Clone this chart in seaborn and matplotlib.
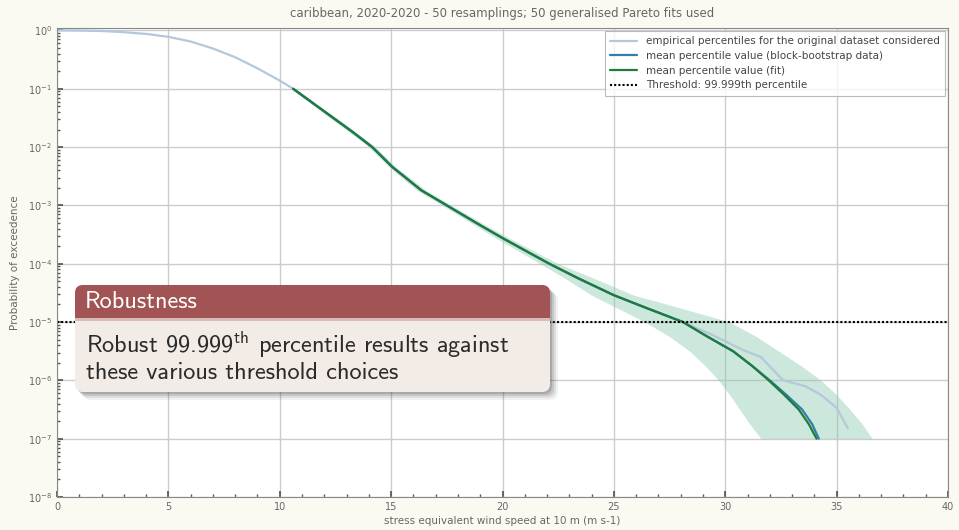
# -*- coding: utf-8 -*-

### Exceedance probability plot with robustness block ###

import numpy as np
import pandas as pd
import matplotlib.pyplot as plt
import seaborn as sns
from matplotlib.patches import FancyBboxPatch, Rectangle
from matplotlib.ticker import MultipleLocator

sns.set_theme(style="whitegrid")
plt.rcParams['font.family'] = ['DejaVu Sans']
plt.rcParams['mathtext.fontset'] = 'cm'

## Data ##

# empirical percentiles of the original dataset
emp_speed = [0, 1, 2, 3, 4, 5, 6, 7, 8, 9, 10, 10.6, 12.4, 13.3, 14.15, 15.05, 15.6,
             16.35, 17.5, 18.0, 19.0, 19.7, 20.0, 21.0, 22.1, 23.5, 25.0, 26.5,
             28.1, 29.3, 30.0, 30.8, 31.6, 32.6, 33.6, 34.3, 35.0, 35.5]
emp_log_prob = [0, -0.003, -0.01, -0.03, -0.06, -0.11, -0.19, -0.31, -0.46, -0.65,
                -0.86, -1.0, -1.5, -1.75, -2.0, -2.34, -2.5, -2.74, -3.0, -3.12,
                -3.34, -3.5, -3.56, -3.78, -4.0, -4.28, -4.54, -4.77, -5.0, -5.2,
                -5.33, -5.48, -5.6, -6.0, -6.1, -6.25, -6.47, -6.82]

# percentile levels used for the fits
fit_log_prob = [-1, -1.5, -1.75, -2, -2.34, -2.74, -3, -3.34, -3.56, -4, -4.25, -4.54,
                -4.75, -5, -5.25, -5.5, -5.75, -6, -6.25, -6.5, -6.75, -7]
fit_mean = [10.6, 12.4, 13.3, 14.15, 15.05, 16.35, 17.5, 19.0, 20.0, 22.1, 23.4, 25.0,
            26.4, 28.1, 29.2, 30.35, 31.2, 31.95, 32.65, 33.3, 33.75, 34.1]
boot_mean = [10.6, 12.4, 13.3, 14.15, 15.05, 16.35, 17.5, 19.0, 20.0, 22.1, 23.4, 25.0,
             26.4, 28.1, 29.2, 30.35, 31.2, 32.0, 32.75, 33.45, 33.9, 34.2]
fit_low = [10.5, 12.25, 13.15, 14.0, 14.9, 16.15, 17.3, 18.75, 19.7, 21.7, 22.8, 24.0,
           25.1, 26.4, 27.5, 28.4, 29.1, 29.7, 30.2, 30.65, 31.1, 31.6]
fit_high = [10.7, 12.55, 13.45, 14.3, 15.2, 16.55, 17.7, 19.25, 20.3, 22.5, 24.1, 25.9,
            27.9, 30.2, 31.4, 32.4, 33.4, 34.3, 35.0, 35.6, 36.15, 36.6]

threshold = 1e-5

df_emp = pd.DataFrame({'speed': emp_speed, 'prob': 10.0 ** np.array(emp_log_prob)})
df_fit = pd.DataFrame({'prob': 10.0 ** np.array(fit_log_prob),
                       'boot': boot_mean, 'fit': fit_mean,
                       'low': fit_low, 'high': fit_high})

## Figure ##

bg = '#fbfaf2'
fig = plt.figure(figsize=(9.59, 5.30), dpi=100, facecolor=bg)
ax = fig.add_axes([57/959, 1-497/530, (948-57)/959, (497-28)/530])
ax.set_facecolor('white')

ax.fill_betweenx(df_fit['prob'], df_fit['low'], df_fit['high'],
                 color='#8fcbb0', alpha=0.45, linewidth=0)
sns.lineplot(data=df_emp, x='speed', y='prob', ax=ax, sort=False,
             color='#b4c8dc', linewidth=1.6,
             label='empirical percentiles for the original dataset considered')
sns.lineplot(data=df_fit, x='boot', y='prob', ax=ax, sort=False,
             color='#2f7fa8', linewidth=1.6,
             label='mean percentile value (block-bootstrap data)')
sns.lineplot(data=df_fit, x='fit', y='prob', ax=ax, sort=False,
             color='#1f7a3c', linewidth=1.6,
             label='mean percentile value (fit)')
ax.axhline(threshold, color='black', linestyle=(0, (1, 1)), linewidth=1.5,
           label='Threshold: 99.999th percentile')

ax.set_yscale('log')
ax.set_ylim(1e-8, 1.1)
ax.set_xlim(0, 40)
ax.xaxis.set_major_locator(MultipleLocator(5))
ax.xaxis.set_minor_locator(MultipleLocator(1))
ax.grid(True, which='major', color='#cccccc', linewidth=1)
ax.grid(False, which='minor')
ax.tick_params(which='both', direction='in', colors='#555555', labelsize=7,
               left=True, bottom=True, labelcolor='#666666')
ax.tick_params(which='major', length=4)
ax.tick_params(which='minor', length=2)
for s in ax.spines.values():
    s.set_color('#888888')
    s.set_linewidth(0.8)

ax.set_title('caribbean, 2020-2020 - 50 resamplings; 50 generalised Pareto fits used',
             fontsize=8.5, color='#666666', pad=8)
ax.set_xlabel('stress equivalent wind speed at 10 m (m s-1)', fontsize=7.5,
              color='#666666', labelpad=3)
ax.set_ylabel('Probability of exceedence', fontsize=7.5, color='#666666', labelpad=6)

leg = ax.legend(loc='upper right', fontsize=7.5, frameon=True, fancybox=False,
                borderaxespad=0.3, handlelength=2.6, labelspacing=0.45,
                borderpad=0.5)
leg.get_frame().set_edgecolor('#aaaaaa')
leg.get_frame().set_linewidth(0.8)
for t in leg.get_texts():
    t.set_color('#444444')

## Robustness block (slide overlay) ##

ov = fig.add_axes([0, 0, 1, 1])
ov.set_xlim(0, 959)
ov.set_ylim(530, 0)
ov.axis('off')
ov.patch.set_alpha(0)

x0, x1, y0, ym, y1 = 75, 550, 285, 318, 392
for off, a in [(8, 0.08), (6, 0.12), (4, 0.18), (2, 0.25)]:
    ov.add_patch(FancyBboxPatch((x0 + off, y0 + off), x1 - x0, y1 - y0,
                                boxstyle='round,pad=0,rounding_size=8',
                                facecolor='#555555', edgecolor='none', alpha=a))
ov.add_patch(FancyBboxPatch((x0, y0), x1 - x0, y1 - y0,
                            boxstyle='round,pad=0,rounding_size=8',
                            facecolor='#f3ebe6', edgecolor='none'))
ov.add_patch(FancyBboxPatch((x0, y0), x1 - x0, ym - y0,
                            boxstyle='round,pad=0,rounding_size=8',
                            facecolor='#a25353', edgecolor='none'))
ov.add_patch(Rectangle((x0, ym - 12), x1 - x0, 12,
                       facecolor='#a25353', edgecolor='none'))
ov.add_patch(Rectangle((x0, ym), x1 - x0, 3,
                       facecolor='#c99a98', edgecolor='none', alpha=0.6))

blk_font = ['cmss10', 'DejaVu Sans']
ov.text(85, 302, 'Robustness', color='white', fontsize=17.5, va='center', ha='left',
        family=blk_font)
ov.text(86, 345, 'Robust 99.999$^{\\mathsf{th}}$ percentile results against',
        color='#2b2b2b', fontsize=17.5, va='center', ha='left', family=blk_font)
ov.text(86, 373, 'these various threshold choices',
        color='#2b2b2b', fontsize=17.5, va='center', ha='left', family=blk_font)

plt.savefig('out.png', dpi=100, facecolor=bg)
